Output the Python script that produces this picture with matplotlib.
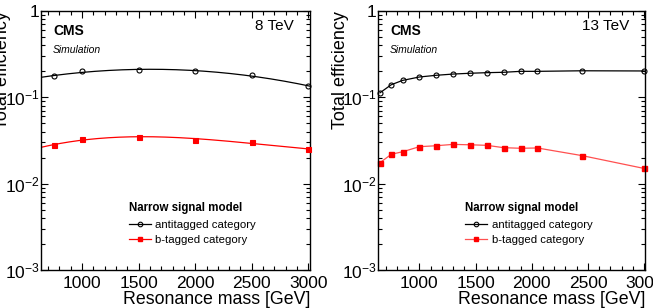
import numpy as np
import matplotlib
matplotlib.use('Agg')
import matplotlib.pyplot as plt
from matplotlib.ticker import MultipleLocator, LogLocator, FuncFormatter, NullFormatter

plt.rcParams['font.family'] = ['Liberation Sans', 'DejaVu Sans']
plt.rcParams['mathtext.fontset'] = 'custom'
plt.rcParams['mathtext.rm'] = 'Liberation Sans'
plt.rcParams['mathtext.it'] = 'Liberation Sans:italic'
plt.rcParams['mathtext.bf'] = 'Liberation Sans:bold'

# 8 TeV
mass_8 = [750, 1000, 1500, 2000, 2500, 3000]
anti_8 = [0.176, 0.200, 0.209, 0.200, 0.180, 0.135]
btag_8 = [0.0278, 0.0329, 0.0350, 0.0320, 0.0303, 0.0250]

# 13 TeV
mass_13 = [650, 750, 850, 1000, 1150, 1300, 1450, 1600, 1750, 1900, 2050, 2450, 3000]
anti_13 = [0.113, 0.140, 0.157, 0.172, 0.180, 0.186, 0.190, 0.193, 0.195, 0.200, 0.200, 0.203, 0.202]
btag_13 = [0.0175, 0.0219, 0.0234, 0.0268, 0.0275, 0.0285, 0.0282, 0.0278, 0.0261, 0.0257, 0.0259, 0.0211, 0.0150]

legend_title = 'Narrow signal model'
labels = ['antitagged category', 'b-tagged category']


def yfmt(v, pos):
    if abs(v - 1) < 1e-9:
        return '1'
    e = int(round(np.log10(v)))
    return r'$10^{%d}$' % e


def style(ax, xlim):
    ax.set_yscale('log')
    ax.set_ylim(1e-3, 1)
    ax.set_xlim(*xlim)
    ax.xaxis.set_major_locator(MultipleLocator(500))
    ax.xaxis.set_minor_locator(MultipleLocator(100))
    ax.yaxis.set_major_locator(LogLocator(base=10, numticks=10))
    ax.yaxis.set_minor_locator(LogLocator(base=10, subs=np.arange(2, 10), numticks=10))
    ax.yaxis.set_major_formatter(FuncFormatter(yfmt))
    ax.yaxis.set_minor_formatter(NullFormatter())
    ax.tick_params(which='both', direction='in', top=True, right=True, labelsize=12.5, width=0.8)
    ax.tick_params(which='major', length=5)
    ax.tick_params(which='minor', length=2.7)
    ax.tick_params(axis='y', pad=1)
    ax.tick_params(axis='x', pad=4)
    for s in ax.spines.values():
        s.set_linewidth(1.0)
    ax.set_xlabel('Resonance mass [GeV]', fontsize=12.8, loc='right', labelpad=0)
    ax.set_ylabel('Total efficiency', fontsize=13, loc='top')
    ax.yaxis.set_label_coords(-0.11, 1.0)


fig = plt.figure(figsize=(6.53, 3.08), dpi=100)
ax1 = fig.add_axes([0.0628, 0.1234, 0.412, 0.8409])
ax2 = fig.add_axes([0.5789, 0.1234, 0.4089, 0.8409])

# left: smooth fits through the points
xlim1 = (637, 3015)
xs = np.linspace(xlim1[0], xlim1[1], 200)
for vals, col, mk, mfc in [(anti_8, 'black', 'o', 'none'), (btag_8, 'red', 's', 'red')]:
    c = np.polyfit(mass_8, np.log10(vals), 3)
    ax1.plot(xs, 10 ** np.polyval(c, xs), color=col, lw=0.9)
    ax1.plot(mass_8, vals, linestyle='none', marker=mk, ms=3.6, mfc=mfc, mec=col, mew=0.8, clip_on=False, zorder=3)
style(ax1, xlim1)

# right: lines joining points
xlim2 = (632, 3008)
ax2.plot(mass_13, anti_13, color='black', lw=0.9, marker='o', ms=3.6, mfc='none', mew=0.8, clip_on=False)
ax2.plot(mass_13, btag_13, color='#ff5050', lw=0.9, marker='s', ms=3.6, mfc='red', mec='red', clip_on=False)
style(ax2, xlim2)

for ax, energy, lcol in [(ax1, '8 TeV', 'red'), (ax2, '13 TeV', '#ff5050')]:
    ax.text(0.045, 0.95, 'CMS', transform=ax.transAxes, fontsize=10, fontweight='bold', va='top')
    ax.text(0.045, 0.87, 'Simulation', transform=ax.transAxes, fontsize=7.5, style='italic', va='top')
    ax.text(0.94, 0.97, energy, transform=ax.transAxes, fontsize=11, ha='right', va='top')
    h1, = ax.plot([], [], color='black', lw=0.9, marker='o', ms=3.3, mfc='none', mew=0.8)
    h2, = ax.plot([], [], color=lcol, lw=0.9, marker='s', ms=3.3, mfc='red', mec='red')
    leg = ax.legend([h1, h2], labels, title=legend_title, loc='lower left',
                    bbox_to_anchor=(0.31, 0.08), frameon=False, fontsize=8.2,
                    handlelength=1.9, handletextpad=0.4, labelspacing=0.45,
                    borderaxespad=0, title_fontproperties={'weight': 'bold', 'size': 8.3},
                    alignment='left')

fig.savefig('out.png', dpi=100)
